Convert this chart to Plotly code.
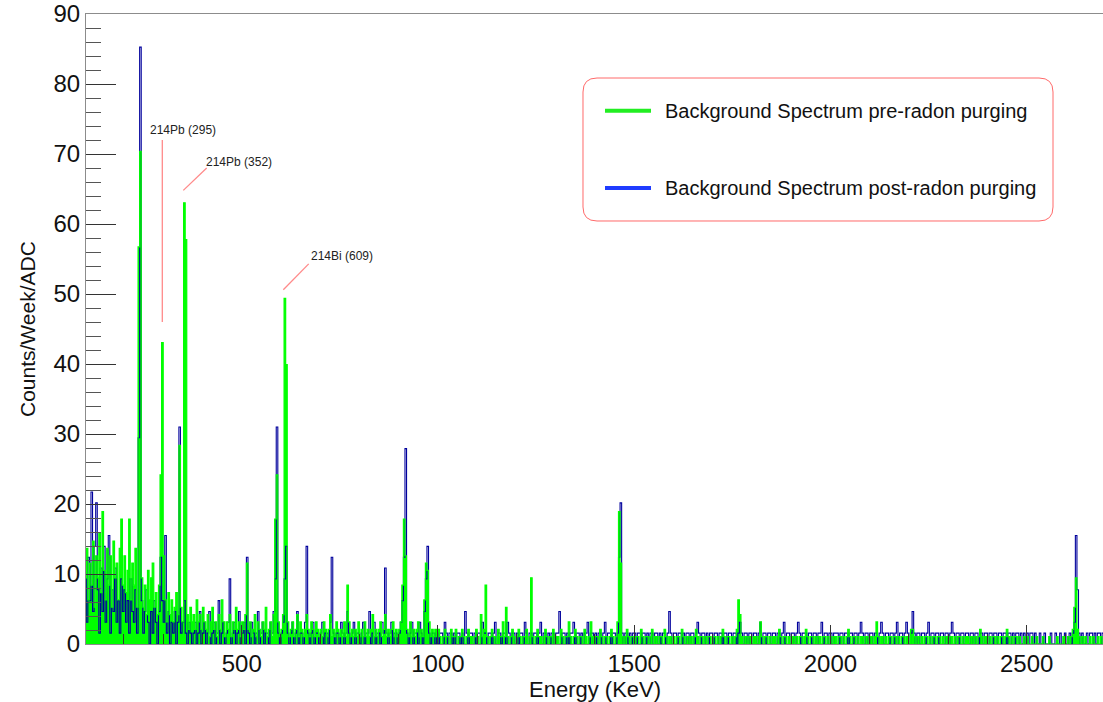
import numpy as np
import plotly.graph_objects as go

# Histogram binning (keV)
BIN_START_KEV = 100
BIN_WIDTH_KEV = 4

# Raw counts per 4 keV bin, background run before radon purging
pre_radon_counts = [
    9, 13, 6, 11, 8, 14, 5, 12, 9, 15, 7, 18, 10, 6, 13, 8, 12, 5, 14, 9, 11, 6, 13, 17, 8,
    12, 7, 10, 17, 6, 11, 8, 13, 5, 54, 67, 9, 5, 8, 4, 10, 6, 9, 11, 5, 7, 4, 8, 23, 41,
    12, 6, 3, 7, 4, 6, 3, 5, 7, 4, 27, 5, 3, 60, 55, 4, 2, 5, 3, 4, 2, 6, 3, 4, 2,
    5, 3, 2, 4, 1, 3, 5, 2, 3, 1, 4, 2, 6, 3, 1, 3, 2, 4, 1, 3, 2, 5, 2, 3, 1,
    3, 2, 4, 11, 2, 3, 1, 2, 4, 1, 3, 2, 1, 3, 2, 5, 1, 2, 3, 1, 4, 17, 23, 3, 1,
    2, 4, 47, 38, 3, 1, 2, 3, 1, 2, 4, 1, 3, 2, 1, 2, 4, 2, 1, 3, 2, 1, 3, 2, 1,
    2, 1, 3, 2, 1, 2, 4, 1, 2, 1, 3, 2, 1, 2, 1, 3, 1, 8, 3, 1, 2, 1, 2, 1, 3,
    1, 2, 1, 3, 1, 2, 1, 2, 4, 1, 2, 1, 2, 3, 1, 2, 4, 1, 2, 1, 2, 3, 1, 2, 1,
    2, 3, 8, 17, 12, 2, 1, 3, 1, 2, 1, 2, 3, 1, 2, 1, 6, 11, 10, 3, 1, 2, 1, 2, 1,
    2, 1, 0, 1, 2, 1, 1, 0, 2, 1, 1, 2, 0, 1, 1, 2, 1, 0, 1, 2, 1, 1, 0, 1, 2,
    1, 0, 4, 1, 2, 8, 1, 0, 1, 2, 1, 1, 0, 2, 1, 1, 3, 1, 5, 1, 0, 1, 2, 1, 0,
    1, 2, 1, 0, 1, 1, 2, 0, 1, 9, 1, 0, 1, 2, 1, 1, 0, 1, 2, 1, 0, 1, 1, 2, 0,
    1, 1, 0, 2, 1, 0, 1, 1, 3, 1, 0, 1, 2, 1, 0, 1, 1, 0, 2, 1, 0, 1, 3, 1, 0,
    1, 1, 0, 2, 1, 0, 1, 1, 0, 1, 2, 1, 0, 1, 3, 18, 11, 1, 0, 1, 2, 1, 0, 1, 1,
    0, 1, 1, 0, 2, 1, 0, 1, 1, 0, 1, 2, 0, 1, 1, 0, 1, 1, 0, 2, 1, 0, 1, 1, 0,
    1, 0, 1, 1, 0, 2, 1, 0, 1, 1, 0, 1, 0, 1, 2, 1, 0, 1, 1, 0, 1, 0, 1, 1, 0,
    1, 1, 0, 1, 0, 1, 2, 1, 0, 1, 1, 0, 1, 0, 1, 2, 6, 4, 1, 0, 1, 1, 0, 1, 1,
    0, 1, 1, 0, 1, 3, 1, 0, 1, 1, 0, 1, 0, 1, 1, 0, 1, 2, 1, 0, 1, 1, 0, 1, 0,
    1, 1, 0, 1, 0, 1, 1, 0, 1, 2, 1, 0, 1, 1, 0, 1, 0, 1, 1, 0, 1, 1, 0, 1, 0,
    1, 0, 1, 1, 0, 1, 1, 0, 1, 0, 1, 2, 1, 0, 1, 1, 0, 1, 0, 1, 1, 0, 1, 1, 0,
    1, 1, 0, 1, 3, 1, 0, 1, 1, 0, 1, 0, 1, 1, 0, 1, 1, 0, 1, 0, 1, 1, 0, 1, 1,
    0, 2, 2, 1, 0, 1, 1, 0, 1, 0, 1, 1, 0, 1, 0, 1, 1, 0, 1, 1, 0, 1, 0, 1, 1,
    0, 1, 1, 0, 1, 0, 1, 1, 0, 1, 0, 1, 1, 0, 1, 1, 0, 1, 0, 1, 2, 1, 0, 1, 1,
    0, 1, 0, 1, 1, 0, 1, 0, 1, 1, 0, 1, 2, 1, 0, 1, 0, 1, 1, 0, 1, 0, 0, 1, 0,
    1, 0, 0, 1, 0, 0, 1, 0, 0, 0, 1, 0, 0, 0, 1, 0, 0, 0, 0, 1, 0, 0, 0, 1, 0,
    0, 1, 0, 1, 2, 5, 9, 2, 1, 0, 1, 0, 1, 0, 0, 1, 0, 1, 0, 0, 1, 0, 1, 0, 0,
]

# Raw counts per 4 keV bin, background run after radon purging
post_radon_counts = [
    6, 2, 8, 4, 14, 3, 9, 13, 5, 1, 7, 3, 9, 2, 6, 10, 1, 5, 3, 7, 2, 4, 1, 6, 3,
    5, 2, 4, 1, 6, 3, 2, 5, 1, 19, 55, 4, 1, 3, 5, 2, 0, 3, 1, 4, 2, 0, 3, 8, 4,
    2, 10, 1, 3, 0, 2, 1, 3, 0, 2, 20, 1, 2, 4, 1, 0, 2, 1, 0, 1, 2, 0, 1, 3, 0,
    1, 2, 0, 1, 3, 0, 1, 2, 0, 1, 4, 0, 1, 2, 0, 1, 2, 6, 0, 1, 2, 0, 1, 3, 0,
    1, 2, 0, 8, 1, 0, 2, 1, 0, 1, 3, 0, 1, 2, 0, 1, 1, 0, 2, 1, 3, 6, 20, 1, 0,
    1, 2, 6, 9, 1, 0, 1, 2, 0, 1, 3, 0, 1, 1, 0, 2, 9, 1, 0, 1, 2, 0, 1, 1, 0,
    1, 2, 0, 1, 1, 0, 2, 8, 1, 0, 1, 1, 0, 2, 1, 0, 1, 3, 1, 0, 1, 2, 0, 1, 1,
    0, 1, 2, 0, 1, 1, 3, 0, 1, 2, 0, 1, 1, 0, 2, 1, 7, 1, 0, 1, 2, 0, 1, 1, 0,
    1, 2, 4, 8, 18, 1, 0, 1, 2, 0, 1, 1, 0, 2, 1, 0, 3, 6, 9, 1, 0, 1, 1, 0, 1,
    0, 1, 1, 0, 2, 1, 0, 1, 1, 0, 1, 0, 1, 1, 0, 1, 0, 3, 1, 0, 1, 1, 0, 1, 0,
    1, 1, 0, 2, 1, 1, 0, 1, 1, 0, 1, 2, 0, 1, 1, 0, 1, 1, 0, 2, 1, 0, 1, 1, 0,
    1, 0, 1, 1, 0, 2, 1, 0, 1, 1, 0, 1, 1, 0, 1, 2, 0, 1, 1, 0, 1, 0, 1, 1, 0,
    1, 1, 3, 0, 1, 1, 0, 1, 0, 1, 1, 2, 0, 1, 1, 0, 1, 0, 1, 1, 2, 0, 1, 1, 0,
    1, 0, 1, 1, 0, 1, 2, 0, 1, 1, 0, 1, 1, 0, 1, 8, 13, 1, 0, 1, 1, 0, 1, 0, 1,
    1, 0, 1, 1, 0, 1, 1, 0, 1, 0, 1, 1, 0, 1, 1, 0, 1, 0, 1, 1, 0, 1, 3, 1, 0,
    1, 1, 0, 1, 1, 0, 1, 0, 1, 1, 0, 1, 1, 0, 1, 2, 1, 0, 1, 1, 0, 1, 0, 1, 1,
    0, 1, 1, 0, 1, 1, 0, 1, 1, 0, 1, 1, 0, 1, 1, 0, 1, 2, 1, 0, 1, 1, 0, 1, 1,
    0, 1, 1, 0, 1, 2, 0, 1, 1, 0, 1, 1, 0, 1, 1, 0, 1, 1, 0, 1, 2, 0, 1, 1, 0,
    1, 1, 0, 1, 2, 1, 0, 1, 1, 1, 0, 1, 1, 0, 1, 1, 0, 1, 1, 2, 0, 1, 1, 0, 1,
    1, 0, 1, 1, 1, 0, 1, 1, 0, 1, 1, 0, 1, 1, 0, 1, 1, 0, 1, 2, 1, 0, 1, 1, 0,
    1, 1, 0, 1, 1, 0, 1, 2, 1, 0, 1, 1, 0, 1, 1, 0, 1, 2, 0, 1, 1, 0, 1, 2, 1,
    0, 1, 3, 1, 0, 1, 1, 0, 1, 1, 0, 1, 2, 0, 1, 1, 0, 1, 1, 0, 1, 1, 0, 1, 1,
    0, 1, 2, 1, 0, 1, 1, 0, 1, 1, 0, 1, 1, 0, 1, 1, 0, 1, 1, 0, 1, 1, 0, 1, 1,
    0, 1, 1, 0, 1, 1, 0, 1, 1, 0, 1, 1, 0, 1, 1, 0, 1, 0, 1, 1, 0, 1, 0, 1, 0,
    1, 0, 1, 1, 0, 1, 0, 0, 1, 0, 0, 1, 0, 0, 0, 1, 0, 0, 1, 0, 0, 1, 0, 0, 1,
    0, 0, 1, 0, 1, 2, 10, 5, 1, 0, 1, 0, 0, 1, 0, 1, 1, 0, 1, 0, 1, 1, 0, 1, 0,
]

# Live time of each run (weeks)
pre_radon_weeks = 0.952
post_radon_weeks = 0.645

series_names = [
    "Background Spectrum pre-radon purging",
    "Background Spectrum post-radon purging",
]

peak_labels = ["214Pb (295)", "214Pb (352)", "214Bi (609)"]

GREEN = "#00ff00"
NAVY = "#00009c"
FONT = "Liberation Sans, Arial, Helvetica, sans-serif"

# plot-area geometry in pixels
L, R, T, B = 86, 1103, 14, 644
W, H = R - L, B - T


def step_xy(counts, weeks):
    rate = np.asarray(counts, dtype=float) / weeks
    edges = BIN_START_KEV + BIN_WIDTH_KEV * np.arange(len(rate) + 1)
    return edges, np.append(rate, rate[-1])


def px(xp, yp):
    """pixel position -> paper coordinates"""
    return (xp - L) / W, (B - yp) / H


pre_x, pre_y = step_xy(pre_radon_counts, pre_radon_weeks)
post_x, post_y = step_xy(post_radon_counts, post_radon_weeks)

fig = go.Figure()
# pre-radon histogram body (filled), post-radon outline, pre-radon outline on top
fig.add_trace(go.Scatter(x=pre_x, y=pre_y, mode="lines", fill="tozeroy", fillcolor=GREEN,
                         line=dict(color=GREEN, width=0, shape="hv"),
                         showlegend=False, hoverinfo="skip"))
fig.add_trace(go.Scatter(x=post_x, y=post_y, mode="lines",
                         line=dict(color=NAVY, width=1.1, shape="hv"),
                         showlegend=False, hoverinfo="skip"))
fig.add_trace(go.Scatter(x=pre_x, y=pre_y, mode="lines",
                         line=dict(color=GREEN, width=1.2, shape="hv"),
                         showlegend=False, hoverinfo="skip"))

shapes = []
annotations = []

# peak label pointers (data coordinates)
pointer_color = "#ff8a8a"
for (x0, y0, x1, y1) in [(297.7, 46.0, 297.7, 72.0),
                         (351.2, 64.8, 410.8, 68.0),
                         (606.0, 50.6, 670.7, 54.3)]:
    shapes.append(dict(type="line", xref="x", yref="y", x0=x0, y0=y0, x1=x1, y1=y1,
                       line=dict(color=pointer_color, width=1.3)))
for text, (xc, yc) in zip(peak_labels, [(350.4, 73.4), (493.9, 68.9), (755.5, 55.4)]):
    annotations.append(dict(text=text, xref="x", yref="y", x=xc, y=yc,
                            xanchor="center", yanchor="middle", showarrow=False,
                            font=dict(family=FONT, size=12, color="#222222")))

# legend box with rounded corners
bx0, by0, bx1, by1, r = 583, 78, 1053, 221, 14
def P(xp, yp):
    a, b = px(xp, yp)
    return f"{a:.5f},{b:.5f}"
path = (f"M{P(bx0 + r, by0)} L{P(bx1 - r, by0)} Q{P(bx1, by0)} {P(bx1, by0 + r)} "
        f"L{P(bx1, by1 - r)} Q{P(bx1, by1)} {P(bx1 - r, by1)} "
        f"L{P(bx0 + r, by1)} Q{P(bx0, by1)} {P(bx0, by1 - r)} "
        f"L{P(bx0, by0 + r)} Q{P(bx0, by0)} {P(bx0 + r, by0)} Z")
shapes.append(dict(type="path", xref="paper", yref="paper", path=path,
                   line=dict(color="#ff6a6a", width=1), fillcolor="white", layer="above"))

for name, color, yp in [(series_names[0], "#22ee22", 110.7), (series_names[1], "#1f3cff", 188.0)]:
    ax0, ay = px(605, yp)
    ax1, _ = px(651, yp)
    shapes.append(dict(type="line", xref="paper", yref="paper", x0=ax0, x1=ax1, y0=ay, y1=ay,
                       line=dict(color=color, width=4), layer="above"))
    tx, _ = px(663, yp)
    annotations.append(dict(text=name, xref="paper", yref="paper", x=tx, y=ay,
                            xanchor="left", yanchor="middle", showarrow=False,
                            font=dict(family=FONT, size=20, color="#111111")))

# axis titles
tx, ty = px(595, 689)
annotations.append(dict(text="Energy (KeV)", xref="paper", yref="paper", x=tx, y=ty,
                        xanchor="center", yanchor="middle", showarrow=False,
                        font=dict(family=FONT, size=22, color="#111111")))
tx, ty = px(27, 329)
annotations.append(dict(text="Counts/Week/ADC", xref="paper", yref="paper", x=tx, y=ty,
                        xanchor="center", yanchor="middle", showarrow=False, textangle=-90,
                        font=dict(family=FONT, size=21, color="#111111")))

fig.update_layout(
    width=1103, height=702,
    margin=dict(l=L, r=1103 - R, t=T, b=702 - B),
    paper_bgcolor="white", plot_bgcolor="white",
    shapes=shapes, annotations=annotations,
    showlegend=False,
    xaxis=dict(
        range=[103.3, 2694.4], showgrid=False, zeroline=False,
        showline=True, linecolor="#8c8c8c", linewidth=1, mirror=True,
        ticks="inside", tickmode="array", tickvals=[500, 1000, 1500, 2000, 2500],
        ticklen=19, tickcolor="#333333", tickwidth=1, ticklabelstandoff=-2,
        minor=dict(ticks="inside", dtick=100, tick0=0, ticklen=10, tickcolor="#333333"),
        tickfont=dict(family=FONT, size=24, color="#111111"),
    ),
    yaxis=dict(
        range=[0, 90], showgrid=False, zeroline=False,
        showline=True, linecolor="#8c8c8c", linewidth=1, mirror=False,
        ticks="inside", dtick=10, tick0=0, ticklen=30, tickcolor="#333333", tickwidth=1,
        minor=dict(ticks="inside", dtick=2, tick0=0, ticklen=15, tickcolor="#555555"),
        tickfont=dict(family=FONT, size=24, color="#111111"),
    ),
)

fig.write_html("out.html")
